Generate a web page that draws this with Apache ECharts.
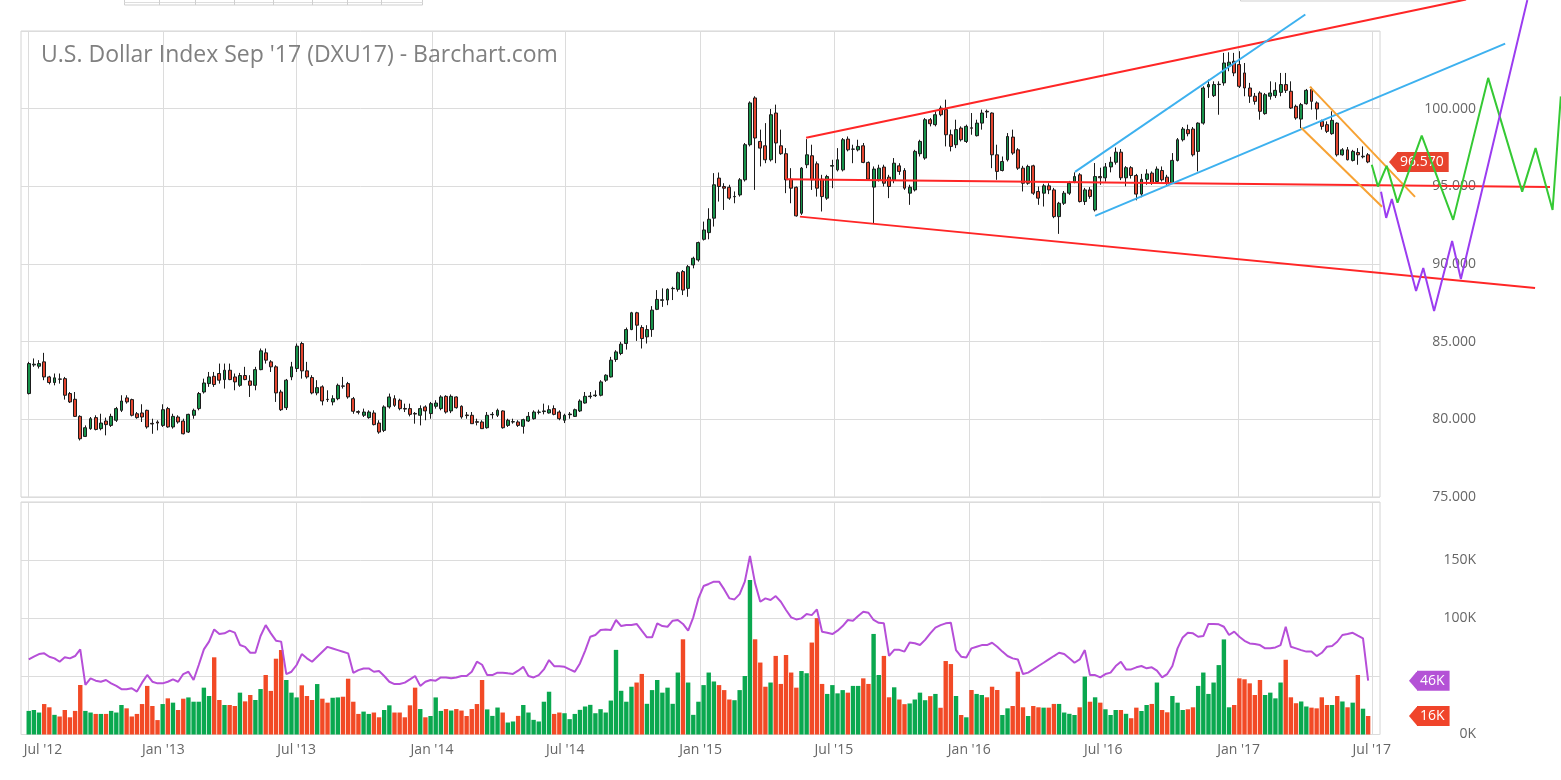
<!DOCTYPE html>
<html><head><meta charset="utf-8">
<script src="https://cdn.jsdelivr.net/npm/echarts@6/dist/echarts.min.js"></script>
<style>html,body{margin:0;padding:0;background:#fff}#c{width:1561px;height:780px}</style>
</head><body><div id="c"></div>
<script>
// ---- weekly candles, Jul 2 2012 .. Jun 26 2017 (week index 0..260) ----
const opens = [
81.66,83.50,83.42,83.70,82.73,82.37,82.60,82.62,81.66,81.29,
80.19,78.90,79.40,80.11,79.40,79.89,79.61,79.94,80.58,81.38,
81.27,80.36,80.41,80.58,79.74,79.83,79.61,80.69,79.51,80.15,
79.89,79.18,80.26,80.69,81.76,82.30,82.77,82.95,82.56,83.16,
82.73,82.19,82.82,82.47,82.19,83.20,84.28,83.70,83.38,81.76,
80.75,82.73,83.27,84.88,83.12,82.69,81.70,82.09,81.29,81.12,
81.33,82.15,82.30,81.33,80.50,80.26,80.11,80.41,79.76,79.29,
80.80,81.33,81.23,80.70,80.69,80.38,80.26,80.80,80.37,80.84,
80.69,81.48,80.54,81.44,80.84,80.28,80.26,79.85,79.83,79.46,
80.30,80.26,80.54,79.61,79.83,79.83,79.55,79.89,80.04,80.45,
80.50,80.41,80.69,80.47,79.94,80.30,80.19,80.54,81.05,81.46,
81.52,81.55,82.52,82.73,83.85,84.24,84.88,85.78,86.86,85.91,
85.31,85.78,87.08,87.66,87.68,88.41,88.37,89.51,88.43,89.94,
90.26,91.59,92.02,92.95,95.53,94.99,94.94,94.33,94.45,95.42,
97.68,100.69,97.89,97.61,96.71,99.72,97.61,97.10,95.46,94.94,
93.27,96.39,96.97,96.45,95.46,94.24,96.30,96.06,96.06,98.04,
97.39,97.35,97.61,96.54,94.95,95.42,96.24,95.59,95.42,96.32,
96.02,94.56,94.77,97.10,96.82,99.29,98.97,100.04,99.94,98.32,
97.68,98.75,97.89,98.77,98.26,99.07,99.83,99.72,97.03,96.02,
96.71,98.17,97.35,96.17,95.20,96.32,94.67,94.56,95.03,94.77,
93.05,93.91,94.56,95.30,95.74,94.02,94.77,93.48,95.63,95.55,
96.25,96.55,97.20,95.55,96.20,95.70,94.50,95.45,95.85,95.31,
96.02,95.59,95.20,96.67,98.00,98.65,98.69,97.25,99.07,101.40,
100.84,101.55,101.66,102.73,103.05,102.84,102.30,101.33,100.80,101.01,
99.68,100.80,100.84,101.05,101.55,101.12,100.15,99.33,100.32,101.23,
100.37,99.18,98.97,98.39,99.07,97.03,97.35,96.67,97.18,96.90,97.03];
const closes = [
83.59,83.55,83.59,82.73,82.37,82.67,82.58,81.55,81.12,80.19,
78.75,79.46,80.04,79.35,79.76,79.66,80.19,80.69,81.18,81.12,
80.26,80.11,80.15,79.51,79.70,79.76,80.62,79.51,80.19,79.83,
79.07,80.32,80.58,81.66,82.34,82.73,82.24,82.52,83.16,82.56,
82.41,82.82,82.56,82.19,83.20,84.41,83.81,83.38,81.70,80.62,
82.52,83.38,84.71,83.12,82.73,81.70,82.04,81.18,81.27,81.33,
82.19,82.13,81.44,80.52,80.45,80.47,80.47,79.66,79.18,80.80,
81.44,80.90,80.69,80.66,80.32,80.34,80.69,80.54,81.01,81.05,
81.44,80.47,81.48,80.75,80.15,80.24,79.72,79.81,79.40,80.26,
80.32,80.58,79.46,79.94,79.85,79.61,79.98,80.19,80.47,80.47,
80.54,80.62,80.32,80.04,80.26,80.34,80.62,81.18,81.48,81.50,
81.56,82.41,82.84,83.81,84.34,84.84,85.78,86.86,86.06,85.20,
85.78,87.03,87.72,87.70,88.37,88.43,89.44,88.32,89.83,90.37,
91.38,92.19,92.88,95.10,94.99,94.88,94.24,94.35,95.42,97.68,
100.37,98.11,97.46,96.71,99.61,97.79,97.10,95.42,94.88,93.10,
96.17,97.03,95.42,94.88,94.34,95.63,96.34,96.71,98.00,97.35,
97.40,97.57,96.54,95.46,96.11,96.17,95.20,94.99,96.49,95.96,
94.88,94.94,97.25,97.89,99.29,99.03,99.61,99.61,98.32,97.57,
98.65,98.00,98.86,98.74,99.07,99.72,99.79,97.03,95.96,96.60,
98.21,97.14,96.17,95.20,96.28,94.56,94.24,95.03,94.77,93.05,
93.91,94.56,95.20,95.63,94.02,94.77,94.35,95.63,95.55,96.25,
96.55,97.20,95.55,96.20,95.70,94.50,95.45,95.80,95.20,96.11,
95.42,95.20,96.67,98.00,98.69,98.39,97.03,99.07,101.33,101.55,
101.55,101.57,102.94,102.99,102.30,101.44,101.33,100.80,100.47,99.83,
100.90,101.01,101.18,101.55,101.18,100.04,99.40,100.26,101.18,100.47,
99.98,98.86,98.54,99.25,97.03,97.35,96.71,97.25,97.03,96.94,96.57];
const lows = [
81.60,83.38,83.27,82.52,82.25,82.19,82.30,81.27,81.05,80.15,
78.64,78.86,79.33,79.29,79.29,78.97,79.51,79.83,80.47,81.01,
80.19,80.04,79.83,79.40,79.07,79.29,79.51,79.46,79.40,79.72,
79.03,79.12,80.04,80.58,81.66,82.09,82.09,82.30,81.98,82.52,
81.87,82.09,82.52,81.44,81.87,83.16,83.59,83.05,81.12,80.54,
80.60,82.52,83.05,82.62,82.62,81.61,81.55,80.90,81.12,80.90,
81.23,81.98,81.33,80.36,80.32,80.15,80.04,79.61,79.07,79.18,
80.69,80.80,80.58,80.47,80.19,79.72,79.61,79.94,80.04,80.69,
80.58,80.37,80.40,80.69,80.04,80.04,79.72,79.61,79.40,79.40,
80.04,80.15,79.40,79.51,79.72,79.51,79.08,79.83,79.98,80.32,
80.32,80.37,80.26,79.94,79.76,80.04,80.15,80.47,81.01,81.33,
81.44,81.48,82.41,82.69,83.70,84.13,84.49,85.74,85.05,84.56,
84.88,85.31,87.03,87.24,87.35,87.68,88.22,88.00,87.89,89.72,
90.15,91.51,91.59,92.41,94.02,93.48,94.13,93.91,94.34,95.31,
97.57,94.77,96.28,96.49,96.60,96.49,97.03,94.56,93.91,93.05,
93.16,96.17,94.77,94.34,93.38,94.13,94.88,95.96,95.96,97.25,
96.49,97.25,96.49,95.42,92.62,95.31,94.99,94.24,95.20,95.74,
94.77,93.81,94.67,96.92,96.71,98.86,98.86,99.51,97.57,97.25,
97.46,97.89,97.79,98.32,98.21,98.65,99.40,96.17,95.42,95.96,
96.60,97.03,96.06,94.67,95.10,94.45,93.81,93.70,94.50,92.95,
91.94,93.80,94.45,95.20,93.96,93.80,94.20,93.38,95.10,95.30,
95.90,96.40,95.40,95.00,95.50,94.10,94.30,95.10,95.10,95.25,
95.31,95.10,95.16,96.60,97.89,98.22,96.92,95.96,98.97,100.69,
100.75,99.61,101.48,102.41,102.09,101.33,100.80,100.37,100.26,99.29,
99.61,100.58,100.69,100.80,101.01,99.98,99.29,98.75,100.26,99.94,
99.29,98.65,98.43,98.32,96.92,96.97,96.67,96.60,96.39,96.80,96.49];
const highs = [
83.70,83.92,83.81,84.28,82.80,82.95,82.95,82.73,81.76,81.76,
80.26,79.61,80.15,80.26,80.36,80.11,80.36,80.80,81.55,81.55,
81.33,80.47,80.97,80.62,80.04,79.94,80.97,80.80,80.36,80.26,
80.04,80.36,80.69,81.76,82.62,83.05,83.05,83.59,83.59,83.59,
82.95,82.99,83.38,82.84,83.38,84.56,84.56,83.81,83.48,81.90,
82.60,83.70,84.88,84.99,83.70,82.84,82.52,82.19,81.87,81.55,
82.30,82.73,82.41,81.44,80.58,80.69,80.58,80.58,79.94,80.90,
81.66,81.55,81.33,81.01,81.01,80.47,80.90,80.90,81.12,81.23,
81.55,81.55,81.60,81.48,80.90,80.47,80.47,80.04,79.94,80.47,
80.47,80.69,80.58,80.04,80.04,79.94,80.04,80.47,80.58,80.62,
81.01,80.90,80.90,80.58,80.36,80.47,80.69,81.29,81.76,81.76,
81.87,82.52,82.90,84.02,84.45,84.99,85.91,86.92,86.92,86.06,
86.06,87.29,88.32,88.43,88.43,88.54,89.51,89.61,89.94,90.47,
91.44,92.73,93.59,95.85,95.89,95.20,95.10,94.67,95.53,97.79,
100.47,100.80,98.65,99.07,99.98,100.26,98.65,97.46,96.17,94.99,
96.24,98.04,97.68,96.60,95.74,95.74,96.71,97.46,98.11,98.21,
97.68,98.00,97.79,96.60,96.28,96.39,96.39,95.74,96.82,96.49,
96.17,95.10,97.35,98.00,99.40,99.40,99.83,100.19,100.58,98.65,
99.29,98.86,98.97,99.72,99.29,99.94,99.94,99.76,97.68,96.92,
98.43,98.65,97.46,96.32,96.39,96.39,94.99,95.16,95.20,94.90,
94.00,94.70,95.35,95.90,95.85,94.90,94.95,96.50,96.20,96.50,
96.90,97.50,97.40,96.30,96.30,95.80,95.80,96.10,95.96,96.28,
96.28,95.74,97.14,98.11,98.82,98.97,98.82,99.12,101.44,101.87,
101.76,101.76,103.59,103.63,103.59,103.70,102.94,101.66,101.01,101.12,
101.01,101.76,101.70,102.30,102.30,101.76,100.26,100.37,101.27,101.40,
100.47,99.29,99.18,99.83,99.12,97.46,97.53,97.35,97.46,97.57,97.14];
// weekly volume, thousands of contracts
const volumes = [
20.3,21.1,18.9,26.2,23.4,16.9,15.5,21.1,14.8,20.3,
42.6,20.3,18.9,17.7,17.7,17.7,20.3,18.9,25.4,22.5,
15.5,17.7,26.2,41.8,24.5,12.4,26.2,31.1,27.4,21.1,
30.8,31.9,28.2,28.2,40.3,33.1,66.4,29.7,25.4,25.4,
24.5,36.0,28.5,34.0,29.7,39.1,51.2,37.5,65.2,72.7,
46.9,36.0,31.9,42.3,33.1,29.7,43.4,30.8,27.4,31.6,
31.9,32.5,48.0,28.2,17.7,19.7,17.7,18.9,14.8,21.1,
25.1,18.9,18.9,14.8,25.1,40.3,21.9,14.8,15.9,31.9,
20.3,21.9,20.6,21.9,20.6,15.9,21.9,26.2,46.9,21.6,
16.0,23.2,18.9,10.3,11.2,16.0,25.4,18.9,12.6,11.2,
28.2,36.8,17.7,18.9,18.3,13.2,17.7,21.2,24.1,25.5,
18.3,21.8,18.9,29.2,72.8,37.6,28.2,41.1,44.7,52.1,
26.4,38.2,46.9,36.0,40.3,26.4,53.3,81.9,44.7,16.9,
28.2,42.5,53.3,45.6,42.5,38.2,30.1,29.5,38.2,50.3,
132.8,81.9,61.9,41.1,44.7,67.6,43.5,68.4,53.3,40.3,
54.6,52.7,79.1,100.1,43.5,34.9,42.5,35.4,38.2,36.0,
41.8,41.8,48.3,43.5,86.5,51.2,67.6,32.0,40.6,30.1,
26.1,26.7,30.1,36.0,29.5,33.0,34.9,23.0,63.2,60.6,
33.1,16.8,14.8,38.3,34.9,34.0,32.0,41.1,38.3,16.8,
22.5,24.5,54.0,23.4,15.9,24.5,23.4,23.1,23.1,26.3,
26.3,18.9,17.8,16.8,23.4,49.8,28.2,32.0,27.4,21.7,
16.8,21.1,21.1,17.8,14.0,23.1,20.2,25.4,26.3,44.7,
21.1,19.1,33.1,27.4,21.1,21.7,23.4,41.8,53.3,34.9,
44.7,59.7,81.8,23.4,25.4,48.3,47.5,44.0,34.0,46.9,
34.0,36.0,31.1,44.7,64.3,32.0,26.9,28.4,24.1,23.1,
22.5,32.0,25.4,25.4,33.1,28.4,23.4,27.4,51.2,22.2,15.9];
// volume moving average, thousands
const volumeMA = [
64.6,67.0,69.2,69.8,66.9,65.5,62.6,66.4,65.5,67.5,
73.2,42.6,48.3,46.3,45.4,46.9,44.0,41.8,39.0,39.0,
39.8,36.9,44.6,51.2,45.4,44.0,44.0,45.4,47.4,45.4,
52.0,54.0,46.9,59.8,73.2,79.9,90.4,86.4,87.0,89.3,
87.6,77.0,75.4,70.3,70.3,84.7,94.1,87.0,80.7,79.9,
52.0,54.0,59.8,69.2,65.5,62.6,66.9,71.2,75.4,74.0,
72.6,71.2,69.8,53.1,55.4,56.8,56.8,54.0,54.6,50.3,
45.4,43.4,43.4,44.6,47.4,50.3,41.8,45.4,46.9,46.3,
49.1,49.1,48.3,49.1,50.3,50.3,54.0,62.6,60.0,51.1,
51.1,53.2,53.2,52.6,52.1,54.9,58.2,50.3,49.1,51.1,
56.0,64.0,58.8,58.8,58.2,56.0,54.0,61.1,72.0,84.1,
85.6,89.9,90.4,89.9,98.5,93.3,94.2,94.2,95.1,89.3,
83.6,83.6,95.6,93.3,92.7,97.9,98.5,95.1,89.3,100.8,
117.1,127.7,129.5,131.5,131.5,124.8,117.1,116.2,120.8,131.5,
153.5,130.0,114.2,117.1,115.7,119.1,114.2,107.1,100.8,99.0,
99.9,103.6,102.7,107.6,88.4,87.6,86.4,89.3,93.3,98.5,
97.9,101.9,105.6,104.7,98.5,96.1,95.6,67.6,72.8,72.8,
71.3,79.1,78.5,77.0,81.4,87.0,92.0,94.1,95.6,96.1,
72.6,66.9,66.3,74.1,75.5,76.9,76.9,78.9,75.5,71.3,
67.5,65.5,64.6,52.0,53.2,56.0,58.9,61.7,64.6,67.5,
70.3,69.2,65.5,61.7,64.6,72.6,51.1,51.1,49.1,52.0,
53.2,58.9,62.6,56.0,56.0,57.8,58.9,56.9,57.8,54.9,
49.1,52.0,58.9,74.1,83.5,87.5,87.0,84.1,84.7,95.1,
95.1,94.8,92.7,85.6,88.5,84.1,80.6,78.3,77.8,76.9,
74.1,74.1,74.9,76.9,92.7,75.5,74.1,72.6,71.3,71.3,
67.5,70.3,75.5,76.1,79.8,85.6,86.4,87.5,85.0,82.6,46.3];
// x-axis tick labels and their dates
const tickLabels = ["Jul '12","Jan '13","Jul '13","Jan '14","Jul '14","Jan '15","Jul '15","Jan '16","Jul '16","Jan '17","Jul '17"];
const tickDates = ['2012-07-01','2013-01-01','2013-07-01','2014-01-01','2014-07-01','2015-01-01','2015-07-01','2016-01-01','2016-07-01','2017-01-01','2017-07-01'];
// hand-drawn studies: [week index, price]
const redUpper = [[150.9,98.13],[279.0,107.03]];
const redMiddle = [[147.0,95.46],[295.3,94.95]];
const redLower = [[149.7,93.05],[292.4,88.45]];
const blueUpper = [[203.1,95.93],[247.8,106.06]];
const blueLower = [[207.0,93.10],[286.6,104.19]];
const orangeUpper = [[248.7,101.42],[269.1,94.32]];
const orangeLower = [[247.0,98.77],[262.7,93.68]];
const greenPath = [[260.7,96.39],[261.9,94.99],[263.6,96.32],[265.7,93.95],[270.4,98.26],[276.5,92.84],[283.3,101.98],[289.9,94.66],[292.5,97.46],[295.8,93.48],[297.4,100.79]];
const purplePath = [[262.5,94.65],[263.5,92.97],[264.6,94.19],[269.3,88.26],[270.7,89.74],[272.8,86.97],[276.3,91.48],[278.0,89.03],[290.9,106.99]];

const N = closes.length;
[opens, lows, highs, volumes, volumeMA].forEach((a, k) => { if (a.length !== N) throw new Error('length mismatch ' + k + ': ' + a.length + ' vs ' + N); });

const FONT = "'Open Sans','DejaVu Sans',sans-serif";
// layout
const G_LEFT = 21, G_WIDTH = 1359, P_TOP = 31, P_HEIGHT = 466, V_TOP = 502, V_HEIGHT = 232.5;
const X_MIN = -1.5, X_MAX = 262.3, P_MIN = 75, P_MAX = 105;
const pxPerWeek = G_WIDTH / (X_MAX - X_MIN), pxPerPoint = P_HEIGHT / (P_MAX - P_MIN);
// drawing layer: same scales as the price pane, stretched over the full canvas width/top
const O_WIDTH = 1561 - G_LEFT, O_HEIGHT = P_TOP + P_HEIGHT;
const O_XMAX = X_MIN + O_WIDTH / pxPerWeek, O_YMAX = P_MIN + O_HEIGHT / pxPerPoint;

const start = Date.UTC(2012, 6, 2), WEEK = 7 * 86400000;
const tickPos = tickDates.map(d => (Date.parse(d + 'T00:00:00Z') - start) / WEEK);
function xLabel(v) {
  let best = 0;
  tickPos.forEach((p, i) => { if (Math.abs(p - v) < Math.abs(tickPos[best] - v)) best = i; });
  return best === 0 ? '{first|' + tickLabels[0] + '}' : tickLabels[best];
}
const UP = '#17924a', DOWN = '#e3452f', VUP = '#0aa84f', VDOWN = '#f24a26', MA = '#b64fd8';
const candleData = closes.map((c, i) => [i, opens[i], c, lows[i], highs[i]]);
const volData = volumes.map((v, i) => [i, v]);
const maData = volumeMA.map((v, i) => [i, v]);

function tri(color) {
  return 'data:image/svg+xml;charset=utf-8,' + encodeURIComponent('<svg xmlns="http://www.w3.org/2000/svg" width="8" height="20"><path d="M8.5 0 L0 10 L8.5 20 Z" fill="' + color + '"/></svg>');
}
function tag(value, text, color, distance) {
  return {
    silent: true, symbol: ['none', 'none'], animation: false,
    lineStyle: { color: 'rgba(0,0,0,0)', width: 0, type: 'solid' },
    data: [{ yAxis: value }],
    label: {
      show: true, position: 'end', distance: distance, formatter: '{t|}{b|' + text + '}',
      rich: {
        t: { width: 8, height: 20, backgroundColor: { image: tri(color) } },
        b: { backgroundColor: color, color: '#fff', fontSize: 14, fontFamily: FONT, padding: [3, 5, 3, 3], lineHeight: 14, height: 14 }
      }
    },
    emphasis: { disabled: true }
  };
}
function trend(data, color) {
  return { type: 'line', xAxisIndex: 2, yAxisIndex: 2, data: data, clip: false, symbol: 'none', silent: true,
    lineStyle: { color: color, width: 2 }, z: 5 };
}
const axisText = { color: '#666', fontSize: 14, fontFamily: FONT };
const grid = '#dcdcdc';

const chart = echarts.init(document.getElementById('c'), null, { renderer: 'canvas' });
chart.setOption({
  animation: false,
  backgroundColor: '#fff',
  title: { text: "U.S. Dollar Index Sep '17 (DXU17) - Barchart.com", left: 41, top: 44, padding: 0,
    textStyle: { fontSize: 23, fontWeight: 'normal', color: '#808080', fontFamily: FONT } },
  grid: [
    { left: G_LEFT, top: P_TOP, width: G_WIDTH, height: P_HEIGHT, show: true, borderColor: '#d4d4d4', borderWidth: 1 },
    { left: G_LEFT, top: V_TOP, width: G_WIDTH, height: V_HEIGHT, show: true, borderColor: '#d4d4d4', borderWidth: 1 },
    { left: G_LEFT, top: 0, width: O_WIDTH, height: O_HEIGHT, show: false }
  ],
  xAxis: [
    { gridIndex: 0, type: 'value', min: X_MIN, max: X_MAX, axisLine: { show: false },
      axisTick: { show: false, customValues: tickPos }, axisLabel: { show: false, customValues: tickPos },
      splitLine: { show: true, lineStyle: { color: grid } } },
    { gridIndex: 1, type: 'value', min: X_MIN, max: X_MAX, axisLine: { show: false },
      axisTick: { show: false, customValues: tickPos },
      axisLabel: Object.assign({ show: true, customValues: tickPos, formatter: xLabel, margin: 9,
        rich: { first: Object.assign({ padding: [0, 0, 0, 30] }, axisText) } }, axisText),
      splitLine: { show: true, lineStyle: { color: grid } } },
    { gridIndex: 2, type: 'value', min: X_MIN, max: O_XMAX, show: false }
  ],
  yAxis: [
    { gridIndex: 0, type: 'value', position: 'right', min: P_MIN, max: P_MAX, interval: 5,
      axisLine: { show: false }, axisTick: { show: false }, splitLine: { lineStyle: { color: grid } },
      axisLabel: Object.assign({ align: 'right', margin: 96, formatter: v => v > 100 ? '' : v.toFixed(3) }, axisText) },
    { gridIndex: 1, type: 'value', position: 'right', min: 0, max: 200, interval: 50,
      axisLine: { show: false }, axisTick: { show: false }, splitLine: { lineStyle: { color: grid } },
      axisLabel: Object.assign({ align: 'right', margin: 96, formatter: v => (v === 50 || v === 200) ? '' : v + 'K' }, axisText) },
    { gridIndex: 2, type: 'value', min: P_MIN, max: O_YMAX, show: false }
  ],
  graphic: [
    { type: 'rect', shape: { x: 124.5, y: -20, width: 298, height: 25 }, style: { fill: '#fff', stroke: '#cfcfcf', lineWidth: 1 } },
    { type: 'line', shape: { x1: 124.5, y1: 2.5, x2: 422.5, y2: 2.5 }, style: { stroke: '#dddddd', lineWidth: 1 } },
    { type: 'rect', shape: { x: 1240.5, y: -20, width: 220, height: 21 }, style: { fill: '#fff', stroke: '#cfcfcf', lineWidth: 1 } }
  ].concat([159.5, 195.5, 234.5, 273.5, 312.5, 347.5, 381.5].map(x => (
    { type: 'line', shape: { x1: x, y1: -5, x2: x, y2: 5 }, style: { stroke: '#cfcfcf', lineWidth: 1 } }))),
  series: [
    { type: 'candlestick', xAxisIndex: 0, yAxisIndex: 0, data: candleData, encode: { x: 0, y: [1, 2, 3, 4] },
      barWidth: 3.4, silent: true,
      itemStyle: { color: UP, color0: DOWN, borderColor: '#1b1b1b', borderColor0: '#1b1b1b', borderWidth: 1 } },
    { type: 'bar', xAxisIndex: 1, yAxisIndex: 1, data: volData, barWidth: 4.4, silent: true,
      itemStyle: { color: p => closes[p.dataIndex] >= opens[p.dataIndex] ? VUP : VDOWN } },
    { type: 'line', xAxisIndex: 1, yAxisIndex: 1, data: maData, symbol: 'none', silent: true,
      lineStyle: { color: MA, width: 2 } },
    trend(redUpper, '#ff2626'), trend(redMiddle, '#ff2626'), trend(redLower, '#ff2626'),
    trend(blueUpper, '#3db1ef'), trend(blueLower, '#3db1ef'),
    trend(orangeUpper, '#f7a233'), trend(orangeLower, '#f7a233'),
    trend(greenPath, '#35c934'), trend(purplePath, '#9b3cf0'),
    // last-value tags (invisible lines carrying end labels)
    { type: 'line', xAxisIndex: 0, yAxisIndex: 0, data: [], z: 6,
      markLine: tag(closes[N - 1], closes[N - 1].toFixed(3), '#e8432e', 9) },
    { type: 'line', xAxisIndex: 1, yAxisIndex: 1, data: [], z: 6,
      markLine: tag(volumes[N - 1], Math.round(volumes[N - 1]) + 'K', '#f0442a', 29) },
    { type: 'line', xAxisIndex: 1, yAxisIndex: 1, data: [], z: 6,
      markLine: tag(volumeMA[N - 1], Math.round(volumeMA[N - 1]) + 'K', '#b452d6', 29) }
  ]
});
</script></body></html>
